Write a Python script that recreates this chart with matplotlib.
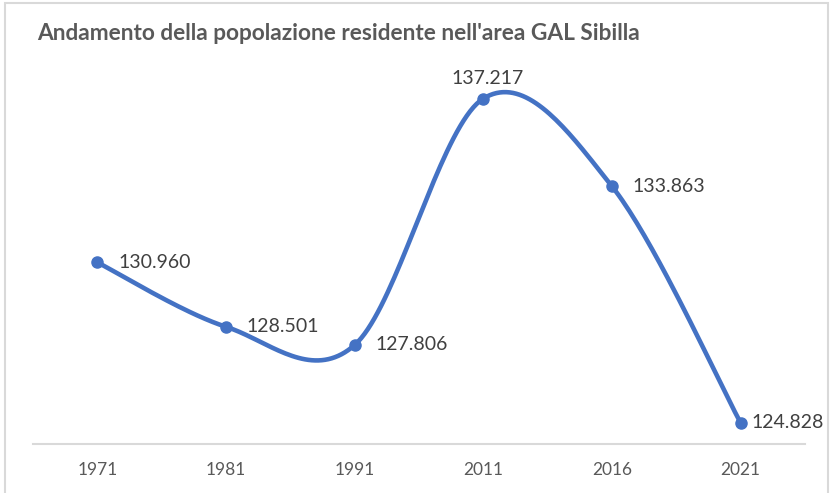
import numpy as np
import matplotlib.pyplot as plt
from matplotlib.patches import Rectangle

anni = ['1971', '1981', '1991', '2011', '2016', '2021']
popolazione = [130960, 128501, 127806, 137217, 133863, 124828]
etichette = ['130.960', '128.501', '127.806', '137.217', '133.863', '124.828']
posizione = ['destra', 'destra', 'destra', 'sopra', 'destra', 'destra']

BLU = '#4472C4'
GRIGIO = '#595959'


def curva_liscia(x, y, passi=40):
    # spline tipo Excel (Bezier con punti di controllo Catmull-Rom)
    x = np.asarray(x, float)
    y = np.asarray(y, float)
    xs, ys = [], []
    n = len(x)
    for i in range(n - 1):
        p0 = (x[max(i - 1, 0)], y[max(i - 1, 0)])
        p1 = (x[i], y[i])
        p2 = (x[i + 1], y[i + 1])
        p3 = (x[min(i + 2, n - 1)], y[min(i + 2, n - 1)])
        c1 = (p1[0] + (p2[0] - p0[0]) / 6, p1[1] + (p2[1] - p0[1]) / 6)
        c2 = (p2[0] - (p3[0] - p1[0]) / 6, p2[1] - (p3[1] - p1[1]) / 6)
        t = np.linspace(0, 1, passi)
        a = (1 - t) ** 3
        b = 3 * (1 - t) ** 2 * t
        c = 3 * (1 - t) * t ** 2
        d = t ** 3
        xs.extend(a * p1[0] + b * c1[0] + c * c2[0] + d * p2[0])
        ys.extend(a * p1[1] + b * c1[1] + c * c2[1] + d * p2[1])
    return np.array(xs), np.array(ys)


fig = plt.figure(figsize=(8.35, 4.93), dpi=100)
fig.patches.append(Rectangle((0.006, -0.1), 0.986, 1.093, transform=fig.transFigure,
                             fill=False, edgecolor='#D9D9D9', linewidth=1.5))

ax = fig.add_axes([0.0395, 0.0994, 0.9246, 0.78])
indici = np.arange(len(anni))
cx, cy = curva_liscia(indici, popolazione)
ax.plot(cx, cy, color=BLU, linewidth=3.3, solid_capstyle='round', zorder=2)
ax.plot(indici, popolazione, 'o', color=BLU, markersize=8, zorder=3)

for i in range(len(anni)):
    if posizione[i] == 'sopra':
        ax.annotate(etichette[i], (indici[i], popolazione[i]), xytext=(3, 8),
                    textcoords='offset points', ha='center', va='bottom',
                    fontsize=14, color='#404040', family='Lato')
    else:
        # l'ultima etichetta viene avvicinata per stare nel riquadro
        dx = 8 if i == len(anni) - 1 else 15
        ax.annotate(etichette[i], (indici[i], popolazione[i]), xytext=(dx, 0),
                    textcoords='offset points', ha='left', va='center',
                    fontsize=14, color='#404040', family='Lato')

ax.set_xlim(-0.5, 5.5)
ax.set_ylim(124025, 138710)
ax.set_xticks(indici)
ax.set_xticklabels(anni, fontsize=12.5, color=GRIGIO, family='Lato')
ax.tick_params(axis='x', length=0, pad=13)
ax.set_yticks([])
for lato in ['top', 'left', 'right']:
    ax.spines[lato].set_visible(False)
ax.spines['bottom'].set_color('#D9D9D9')
ax.spines['bottom'].set_linewidth(1.5)

fig.text(0.045, 0.933, "Andamento della popolazione residente nell'area GAL Sibilla",
         fontsize=16.3, fontweight='bold', color=GRIGIO, family='Lato', va='center')

fig.savefig('out.png', dpi=100)
